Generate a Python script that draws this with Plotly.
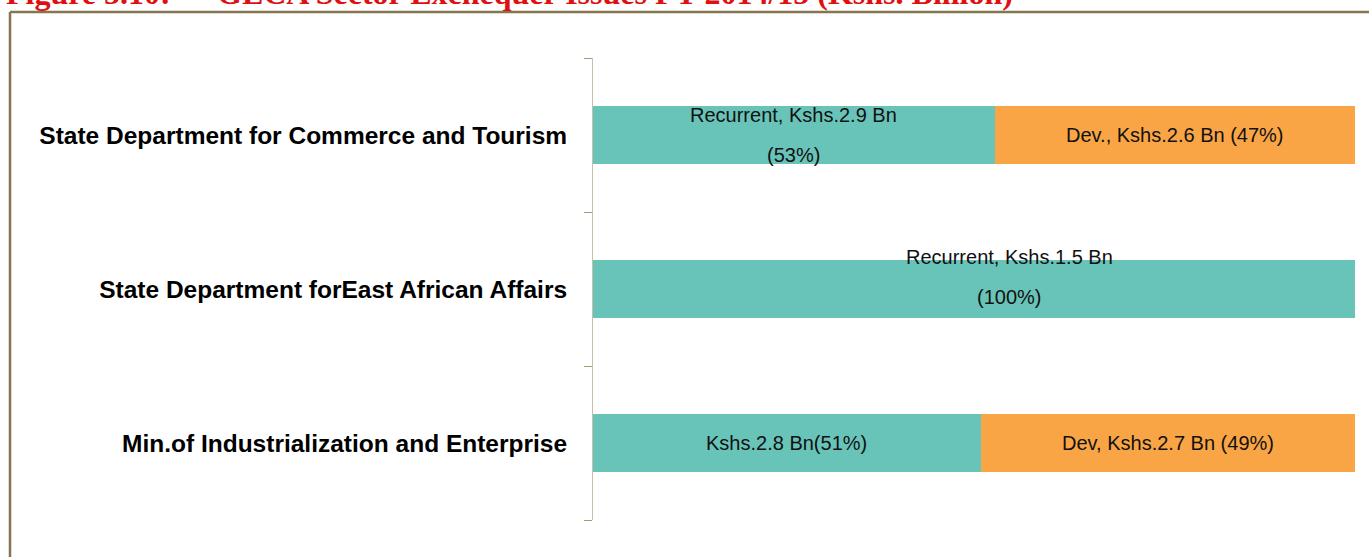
import plotly.graph_objects as go

categories = ["State Department for Commerce and Tourism",
              "State Department forEast African Affairs",
              "Min.of Industrialization and Enterprise"]
recurrent = [2.9, 1.5, 2.8]
development = [2.6, 0.0, 2.7]
recurrent_labels = ["Recurrent, Kshs.2.9 Bn<br>(53%)",
                    "Recurrent, Kshs.1.5 Bn<br>(100%)",
                    "Kshs.2.8 Bn(51%)"]
development_labels = ["Dev., Kshs.2.6 Bn (47%)", "", "Dev, Kshs.2.7 Bn (49%)"]
title_prefix = "Figure 5.10:"
title_text = "GECA Sector Exchequer Issues FY 2014/15 (Kshs. Billion)"

TEAL = "#68c4b9"
ORANGE = "#f9a545"
SANS = "Liberation Sans, Arial, sans-serif"
SERIF = "Liberation Serif, Times New Roman, serif"

W, H = 1369, 557
L, R, T, B = 593, 14, 58, 37
pw, ph = W - L - R, H - T - B
LINE_GAP = 40  # px between label lines

def px_x(p):
    return (p - L) / pw

def px_y(p):
    return (H - B - p) / ph

fig = go.Figure()
fig.add_trace(go.Bar(y=categories, x=recurrent, orientation="h", name="Recurrent",
                     marker=dict(color=TEAL, line=dict(width=0)), hoverinfo="skip"))
fig.add_trace(go.Bar(y=categories, x=development, orientation="h", name="Development",
                     marker=dict(color=ORANGE, line=dict(width=0)), hoverinfo="skip"))

label_font = dict(family=SANS, size=20, color="#111")

def add_label(x, cat, text, xs=0, ys=0):
    lines = text.split("<br>")
    n = len(lines)
    for k, line in enumerate(lines):
        off = ((n - 1) / 2 - k) * LINE_GAP
        annotations.append(dict(x=x, y=cat, xref="x", yref="y", text=line, showarrow=False,
                                xshift=xs, yshift=ys + off, font=label_font))

# segment labels positioned at segment midpoints (percent scale)
label_shift = [(0, 0), (35, 12), (0, 0)]
annotations = []
for i, cat in enumerate(categories):
    tot = recurrent[i] + development[i]
    rp = recurrent[i] / tot * 100
    dp = development[i] / tot * 100
    xs, ys = label_shift[i]
    add_label(rp / 2, cat, recurrent_labels[i], xs, ys)
    if dp > 0:
        add_label(rp + dp / 2, cat, development_labels[i])

title_font = dict(family=SERIF, size=32, color="#e01010")
annotations.append(dict(x=px_x(4), y=px_y(13), xref="paper", yref="paper", xanchor="left",
                        yanchor="bottom", showarrow=False, text="<b>" + title_prefix + "</b>",
                        font=title_font))
annotations.append(dict(x=px_x(215), y=px_y(13), xref="paper", yref="paper", xanchor="left",
                        yanchor="bottom", showarrow=False, text="<b>" + title_text + "</b>",
                        font=title_font))

shapes = [
    dict(type="line", xref="paper", yref="paper", x0=px_x(10), x1=px_x(W + 5),
         y0=px_y(12), y1=px_y(12), line=dict(color="#857650", width=2.5)),
    dict(type="line", xref="paper", yref="paper", x0=px_x(10), x1=px_x(10),
         y0=px_y(12), y1=px_y(H + 5), line=dict(color="#857650", width=2.5)),
]

fig.update_layout(
    width=W, height=H,
    margin=dict(l=L, r=R, t=T, b=B, pad=0, autoexpand=False),
    barmode="stack", barnorm="percent", bargap=0.617,
    plot_bgcolor="white", paper_bgcolor="white",
    showlegend=False,
    annotations=annotations, shapes=shapes,
    xaxis=dict(range=[0, 100], visible=False, showgrid=False, zeroline=False),
    yaxis=dict(autorange="reversed", automargin=False, showline=True, linecolor="#c9bfa6",
               linewidth=1, ticks="outside", tickson="boundaries", ticklen=8,
               tickcolor="#a89878", tickwidth=1, showgrid=False, ticklabelstandoff=20,
               tickfont=dict(family=SANS, size=24.5, color="#000"),
               categoryorder="array", categoryarray=categories,
               tickvals=categories, ticktext=["<b>" + c + "</b>" for c in categories]),
)

fig.write_html("out.html", config={"displayModeBar": False},
               post_script="document.body.style.margin='0';")
